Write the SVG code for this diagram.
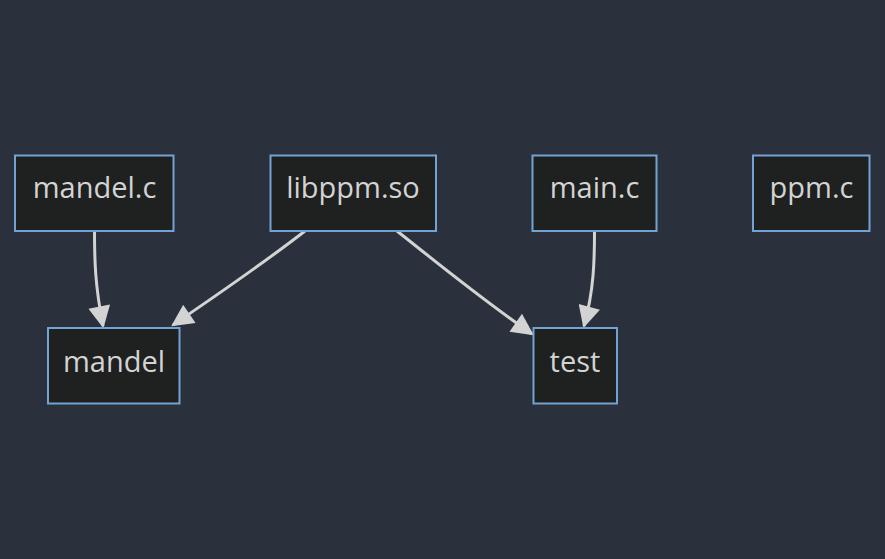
<svg xmlns="http://www.w3.org/2000/svg" width="885" height="559" viewBox="0 0 885 559">
<defs>
<style>
.node rect{fill:#1f2020;stroke:#72a3d4;stroke-width:2}
.node text{fill:#d3d3d3;font-family:"Open Sans","Noto Sans",sans-serif;font-size:29px;text-anchor:middle}
.edge{fill:none;stroke:#d3d3d3;stroke-width:3}
</style>
<marker id="arrow" viewBox="0 0 10 10" refX="9" refY="5" markerUnits="userSpaceOnUse" markerWidth="24" markerHeight="22" orient="auto">
<path d="M0,0 L10,5 L0,10 z" fill="#d3d3d3"/>
</marker>
</defs>
<rect x="0" y="0" width="885" height="559" fill="#2a303c"/>
<g id="connectors">
<path class="edge" d="M94.5,231 C94.5,260 95,285 103,326" marker-end="url(#arrow)"/>
<path class="edge" d="M305,231 C265,262 220,293 173,325" marker-end="url(#arrow)"/>
<path class="edge" d="M397,231 C440,265 480,298 532,334" marker-end="url(#arrow)"/>
<path class="edge" d="M594.5,231 C594.5,260 594,290 584,326" marker-end="url(#arrow)"/>
</g>
<g id="node-mandel-c" class="node"><rect x="15" y="155.5" width="158.5" height="75.5"/><text x="94.5" y="198">mandel.c</text></g>
<g id="node-libppm-so" class="node"><rect x="270.5" y="155.5" width="165.5" height="75.5"/><text x="353" y="198">libppm.so</text></g>
<g id="node-main-c" class="node"><rect x="532.5" y="155.5" width="124" height="75.5"/><text x="594.5" y="198">main.c</text></g>
<g id="node-ppm-c" class="node"><rect x="753" y="155.5" width="116.5" height="75.5"/><text x="811.5" y="198">ppm.c</text></g>
<g id="node-mandel" class="node"><rect x="48" y="328" width="131.5" height="75.5"/><text x="114" y="372">mandel</text></g>
<g id="node-test" class="node"><rect x="533.5" y="328" width="83.5" height="75.5"/><text x="575" y="372">test</text></g>
</svg>
